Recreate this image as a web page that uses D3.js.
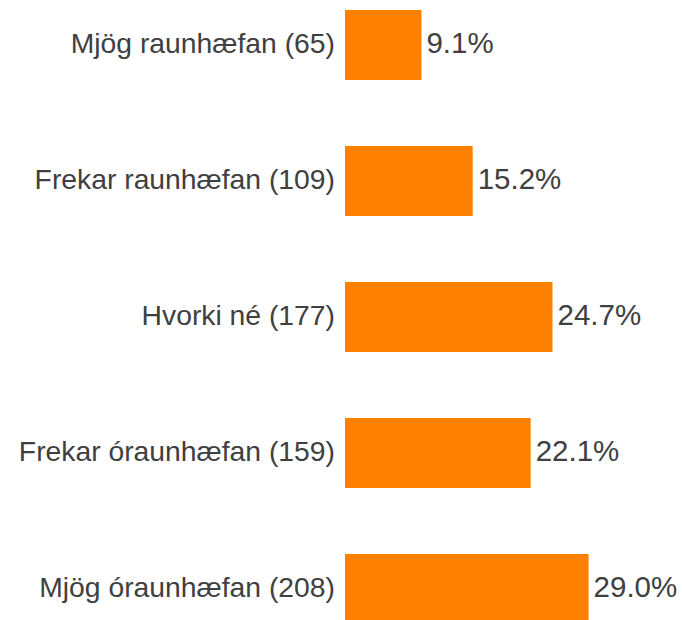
<!DOCTYPE html>
<html>
<head>
<meta charset="utf-8">
<script src="https://cdn.jsdelivr.net/npm/d3@7"></script>
<style>
  html, body { margin: 0; padding: 0; background: #fff; }
  svg { display: block; }
</style>
</head>
<body>
<div id="chart"></div>
<script>
// Survey answers with respondent counts and shares (%)
const categories = ["Mjög raunhæfan", "Frekar raunhæfan", "Hvorki né", "Frekar óraunhæfan", "Mjög óraunhæfan"];
const counts = [65, 109, 177, 159, 208];
const shares = [9.1, 15.2, 24.7, 22.1, 29.0];

const width = 682, height = 620;
const barLeft = 345;

const rows = categories.map((c, i) => ({
  label: `${c} (${counts[i]})`,
  value: shares[i]
}));

const svg = d3.select("#chart").append("svg")
  .attr("width", width)
  .attr("height", height);

const y = d3.scaleBand()
  .domain(rows.map(d => d.label))
  .range([10, 624])
  .paddingInner(66 / 136)
  .paddingOuter(0);

const x = d3.scaleLinear()
  .domain([0, 30])
  .range([barLeft, barLeft + 252]);

const font = "'Liberation Sans', Arial, Helvetica, sans-serif";

const g = svg.append("g");

g.selectAll("rect.bar")
  .data(rows)
  .join("rect")
  .attr("class", "bar")
  .attr("x", x(0))
  .attr("y", d => y(d.label))
  .attr("width", d => x(d.value) - x(0))
  .attr("height", y.bandwidth())
  .attr("fill", "#ff8000");

// Category labels, right-aligned against the bars
g.selectAll("text.cat")
  .data(rows)
  .join("text")
  .attr("class", "cat")
  .attr("x", x(0) - 10)
  .attr("y", d => y(d.label) + y.bandwidth() / 2 + 8)
  .attr("text-anchor", "end")
  .style("font-family", font)
  .style("font-size", "28.3px")
  .style("fill", "#404040")
  .text(d => d.label);

// Percentage labels at bar ends
g.selectAll("text.val")
  .data(rows)
  .join("text")
  .attr("class", "val")
  .attr("x", d => x(d.value) + 5)
  .attr("y", d => y(d.label) + y.bandwidth() / 2 + 8)
  .attr("text-anchor", "start")
  .style("font-family", font)
  .style("font-size", "29.5px")
  .style("fill", "#404040")
  .text(d => d.value.toFixed(1) + "%");
</script>
</body>
</html>
